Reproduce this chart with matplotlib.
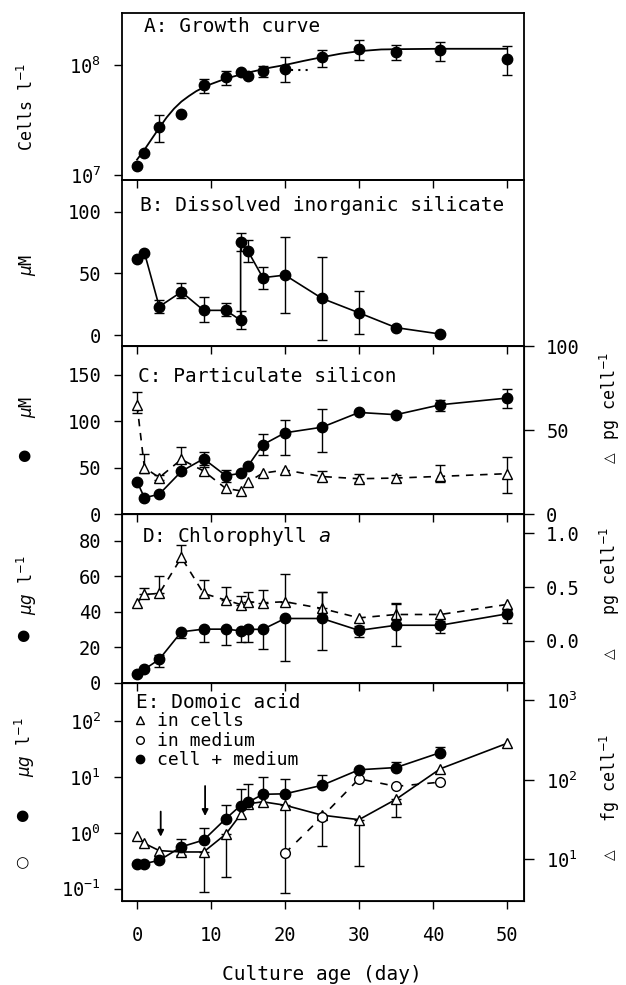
import numpy as np
import matplotlib
matplotlib.use("Agg")
import matplotlib.pyplot as plt
from matplotlib.lines import Line2D
from matplotlib.ticker import FixedLocator, NullLocator

nan = np.nan

# A: growth curve (cells per litre)
days_a = [0, 1, 3, 6, 9, 12, 14, 15, 17, 20, 25, 30, 35, 41, 50]
cells = [1.22e7, 1.58e7, 2.77e7, 3.60e7, 6.65e7, 7.77e7, 8.70e7, 7.98e7, 8.87e7,
         9.30e7, 1.19e8, 1.42e8, 1.32e8, 1.37e8, 1.15e8]
cells_lo = [nan, nan, 2.02e7, nan, 5.66e7, 6.65e7, nan, nan, 7.82e7, 7.0e7,
            9.66e7, 1.13e8, 1.11e8, 1.09e8, 8.22e7]
cells_hi = [nan, nan, 3.54e7, nan, 7.55e7, 8.93e7, nan, nan, 9.93e7, 1.19e8,
            1.39e8, 1.72e8, 1.55e8, 1.63e8, 1.49e8]
# fitted curve
fit_days = [0, 1, 2, 3, 4, 5, 6, 7, 8, 9, 10, 12, 15, 18, 20, 22.5, 25, 27.5, 30,
            33, 36, 41, 50]
fit_cells = [1.38e7, 1.70e7, 2.14e7, 2.69e7, 3.35e7, 4.03e7, 4.68e7, 5.25e7, 5.82e7,
             6.31e7, 6.76e7, 7.59e7, 8.61e7, 9.55e7, 1.01e8, 1.10e8, 1.19e8, 1.28e8,
             1.35e8, 1.40e8, 1.41e8, 1.42e8, 1.42e8]
dot_days = [20.8, 23.3]
dot_cells = [9.1e7, 9.1e7]

# B: dissolved inorganic silicate (uM)
days_b = [0, 1, 3, 6, 9, 12, 14, 14, 15, 17, 20, 25, 30, 35, 41]
dsi = [61.4, 66.8, 23.0, 35.0, 20.0, 20.0, 12.0, 75.7, 68.0, 46.5, 48.6, 29.7, 18.0, 6.0, 0.8]
dsi_lo = [nan, nan, 17.6, 29.7, 10.3, 15.4, 4.6, 68.0, 59.5, 37.0, 17.6, -4.0, 0.5, nan, nan]
dsi_hi = [nan, nan, 28.4, 41.9, 30.5, 25.7, 19.7, 83.0, 77.0, 54.9, 79.7, 63.5, 36.0, nan, nan]

# C: particulate silicon (uM and pg per cell)
days_c = [0, 1, 3, 6, 9, 12, 14, 15, 17, 20, 25, 30, 35, 41, 50]
psi = [35.0, 17.5, 21.3, 46.0, 59.5, 41.3, 43.8, 51.8, 74.6, 87.5, 93.5, 109.4, 107.0, 117.7, 124.9]
psi_lo = [nan, nan, nan, nan, 53.0, 35.0, nan, nan, 64.0, 63.6, 67.0, nan, nan, 110.5, 114.0]
psi_hi = [nan, nan, nan, nan, 66.5, 47.0, nan, nan, 85.8, 101.0, 112.6, nan, nan, 123.0, 134.5]
psi_cell = [65.0, 27.6, 21.7, 32.5, 25.6, 15.2, 13.8, 19.1, 24.3, 26.2, 22.3, 21.0, 21.4, 22.4, 24.0]
psi_cell_lo = [60.0, 24.5, 20.5, 25.6, 23.0, nan, nan, nan, nan, nan, 19.4, 19.0, 19.0, 19.0, 12.5]
psi_cell_hi = [72.9, 36.0, 23.0, 39.6, 28.0, nan, nan, nan, nan, nan, 25.3, 24.0, 23.5, 29.3, 34.0]

# D: chlorophyll a (ug per litre and pg per cell)
days_d = [0, 1, 3, 6, 9, 12, 14, 15, 17, 20, 25, 30, 35, 41, 50]
chl = [4.9, 7.7, 13.3, 28.8, 30.3, 30.3, 29.4, 30.2, 30.2, 36.3, 36.3, 29.6, 32.5, 32.5, 38.9]
chl_lo = [nan, nan, 9.2, 25.1, 22.9, 21.3, 22.9, 22.9, 19.1, 12.5, 18.5, 25.7, 20.6, 28.1, 33.8]
chl_hi = [nan, nan, 15.7, 28.8, 30.3, 30.3, 29.4, 30.2, 30.2, 36.3, 51.0, 31.9, 45.0, 34.7, 41.3]
chl_cell = [0.353, 0.431, 0.44, 0.775, 0.44, 0.378, 0.337, 0.363, 0.353, 0.363, 0.30,
            0.2125, 0.244, 0.244, 0.3375]
chl_cell_lo = [nan, 0.431, 0.44, 0.745, 0.415, 0.378, 0.337, 0.363, 0.353, 0.363, 0.30,
               nan, 0.197, nan, nan]
chl_cell_hi = [nan, 0.487, 0.60, 0.893, 0.562, 0.50, 0.415, 0.456, 0.469, 0.625, 0.456,
               nan, 0.344, nan, nan]

# E: domoic acid
days_tot = [0, 1, 3, 6, 9, 12, 14, 15, 17, 20, 25, 30, 35, 41]
da_tot = [0.27, 0.28, 0.32, 0.56, 0.74, 1.79, 3.08, 3.52, 4.9, 5.0, 7.1, 13.5, 14.8, 27.5]
da_tot_hi = [nan, nan, nan, 0.76, 1.22, 3.16, 6.2, 7.6, 10.0, 9.1, 10.7, nan, 18.6, 34.7]
days_med = [20, 25, 30, 35, 41]
da_med = [0.43, 1.93, 9.3, 6.8, 8.1]
days_cell = [0, 1, 3, 6, 9, 12, 14, 15, 17, 20, 25, 30, 35, 41, 50]
da_cell = [19.6, 15.9, 12.9, 12.4, 12.4, 20.8, 36.7, 50.0, 53.0, 48.0, 36.0, 31.6, 57.0, 138.0, 288.0]
da_cell_lo = [nan, nan, nan, 11.5, 3.93, 5.94, nan, nan, nan, 3.74, 14.7, 8.3, 33.8, nan, nan]
da_cell_hi = [nan, nan, nan, 13.5, 12.4, 20.8, nan, nan, nan, 48.0, 36.0, 31.6, 57.0, nan, nan]
arrow_days = [3.2, 9.2]
arrow_from = [2.4, 6.9]
arrow_to = [0.85, 2.0]

plt.rcParams['font.family'] = ['DejaVu Sans Mono']
plt.rcParams['mathtext.fontset'] = 'dejavusans'

W, H = 626, 985
FS = 13.5
TFS = 14
LFS = 12
RFS = 12
fig = plt.figure(figsize=(W / 100, H / 100), dpi=100)


def add_panel(top, bottom):
    ax = fig.add_axes([122 / W, 1 - bottom / H, 402 / W, (bottom - top) / H])
    ax.set_facecolor('none')
    ax.set_xlim(-2.03, 52.3)
    ax.xaxis.set_major_locator(FixedLocator([0, 10, 20, 30, 40, 50]))
    ax.tick_params(axis='both', direction='out', length=6, width=1, labelsize=FS, pad=9)
    ax.tick_params(axis='x', labelbottom=False)
    for s in ax.spines.values():
        s.set_linewidth(1.3)
    return ax


def twin(ax):
    ax2 = ax.twinx()
    ax2.set_facecolor('none')
    ax2.tick_params(axis='y', direction='out', length=7, width=1, labelsize=FS, pad=9)
    return ax2


def errs(ax, x, y, lo, hi):
    x, y, lo, hi = (np.asarray(v, dtype=float) for v in (x, y, lo, hi))
    m = ~np.isnan(lo)
    ax.errorbar(x[m], y[m], yerr=[y[m] - lo[m], hi[m] - y[m]], fmt='none',
                ecolor='black', elinewidth=1, capsize=3.5, capthick=1, zorder=2)


def filled(ax, x, y, ls='-'):
    ax.plot(x, y, ls=ls, color='black', lw=1.2, marker='o', ms=7.5,
            mfc='black', mec='black', zorder=3)


def opened(ax, x, y, marker='^', ls='-'):
    ax.plot(x, y, ls=ls, color='black', lw=1.2, marker=marker, ms=7,
            mfc='white', mec='black', mew=1, zorder=3)


def ftext(x, y, s, **kw):
    kw.setdefault('fontsize', TFS)
    kw.setdefault('va', 'center')
    fig.text(x / W, 1 - y / H, s, **kw)


DASH = (0, (4.5, 4))

# A
axA = add_panel(13, 180)
axA.set_yscale('log')
axA.set_ylim(10 ** 6.954, 10 ** 8.479)
axA.yaxis.set_major_locator(FixedLocator([1e7, 1e8]))
axA.yaxis.set_minor_locator(NullLocator())
axA.plot(fit_days, fit_cells, color='black', lw=1.3, zorder=2)
axA.plot(dot_days, dot_cells, color='black', lw=1.5, ls=(0, (1, 2.5)))
errs(axA, days_a, cells, cells_lo, cells_hi)
axA.plot(days_a, cells, ls='none', marker='o', ms=7.5, color='black', zorder=3)
ftext(144, 27, 'A: Growth curve')
ftext(27, 107, 'Cells l$^{-1}$', rotation=90, ha='center', fontsize=LFS)

# B
axB = add_panel(180, 346)
axB.set_ylim(-8.9, 125.7)
axB.yaxis.set_major_locator(FixedLocator([0, 50, 100]))
errs(axB, days_b, dsi, dsi_lo, dsi_hi)
filled(axB, days_b, dsi)
ftext(140, 205, 'B: Dissolved inorganic silicate')
ftext(27, 265, r'$\mu$M', rotation=90, ha='center', fontsize=LFS)

# C
axC = add_panel(346, 514)
axC.set_ylim(0, 181)
axC.yaxis.set_major_locator(FixedLocator([0, 50, 100, 150]))
axC2 = twin(axC)
axC2.set_ylim(0, 100)
axC2.yaxis.set_major_locator(FixedLocator([0, 50, 100]))
errs(axC2, days_c, psi_cell, psi_cell_lo, psi_cell_hi)
opened(axC2, days_c, psi_cell, ls=DASH)
errs(axC, days_c, psi, psi_lo, psi_hi)
filled(axC, days_c, psi)
axC.set_zorder(axC2.get_zorder() + 1)
ftext(138, 376, 'C: Particulate silicon')
ftext(27, 407, r'$\mu$M', rotation=90, ha='center', fontsize=LFS)
ftext(24, 456, '●', ha='center', fontsize=11, family=['DejaVu Sans'])
ftext(610, 396, 'pg cell$^{-1}$', rotation=90, ha='center', fontsize=RFS)
ftext(610, 458, '△', rotation=90, ha='center', fontsize=10, family=['DejaVu Sans'])

# D
axD = add_panel(514, 683)
axD.set_ylim(0, 95.1)
axD.yaxis.set_major_locator(FixedLocator([0, 20, 40, 60, 80]))
axD2 = twin(axD)
axD2.set_ylim(-0.394, 1.18)
axD2.yaxis.set_major_locator(FixedLocator([0.0, 0.5, 1.0]))
axD2.set_yticklabels(['0.0', '0.5', '1.0'])
errs(axD2, days_d, chl_cell, chl_cell_lo, chl_cell_hi)
opened(axD2, days_d, chl_cell, ls=DASH)
errs(axD, days_d, chl, chl_lo, chl_hi)
filled(axD, days_d, chl)
axD.set_zorder(axD2.get_zorder() + 1)
ftext(142, 537, r'D: Chlorophyll $\mathit{a}$')
ftext(27, 585, r'$\mu g$ l$^{-1}$', rotation=90, ha='center', fontsize=LFS)
ftext(23, 635, '●', ha='center', fontsize=11, family=['DejaVu Sans'])
ftext(610, 571, 'pg cell$^{-1}$', rotation=90, ha='center', fontsize=RFS)
ftext(610, 654, '△', rotation=90, ha='center', fontsize=10, family=['DejaVu Sans'])

# E
axE = add_panel(683, 901)
axE.set_yscale('log')
axE.set_ylim(10 ** -1.224, 10 ** 2.687)
axE.yaxis.set_major_locator(FixedLocator([0.1, 1, 10, 100]))
axE.yaxis.set_minor_locator(NullLocator())
axE.tick_params(axis='x', labelbottom=True, pad=12)
axE2 = twin(axE)
axE2.set_yscale('log')
axE2.set_ylim(10 ** 0.477, 10 ** 3.218)
axE2.yaxis.set_major_locator(FixedLocator([10, 100, 1000]))
axE2.yaxis.set_minor_locator(NullLocator())
errs(axE2, days_cell, da_cell, da_cell_lo, da_cell_hi)
opened(axE2, days_cell, da_cell)
tot_lo = np.where(np.isnan(da_tot_hi), nan, da_tot)
errs(axE, days_tot, da_tot, tot_lo, da_tot_hi)
opened(axE, days_med, da_med, marker='o', ls=(0, (4.5, 5)))
filled(axE, days_tot, da_tot)
for d, y0, y1 in zip(arrow_days, arrow_from, arrow_to):
    axE.annotate('', xy=(d, y1), xytext=(d, y0),
                 arrowprops=dict(arrowstyle='-|>', color='black', lw=1.3,
                                 mutation_scale=9, shrinkA=0, shrinkB=0))
axE.set_zorder(axE2.get_zorder() + 1)
handles = [
    Line2D([], [], ls='none', marker='^', ms=5.5, mfc='white', mec='black'),
    Line2D([], [], ls='none', marker='o', ms=5.5, mfc='white', mec='black'),
    Line2D([], [], ls='none', marker='o', ms=6, mfc='black', mec='black'),
]
axE.legend(handles, ['in cells', 'in medium', 'cell + medium'], loc='upper left',
           bbox_to_anchor=(0.028, 0.865), frameon=False, fontsize=13,
           handlelength=0.7, handletextpad=0.6, labelspacing=0.08,
           borderpad=0, borderaxespad=0)
ftext(136, 703, 'E: Domoic acid')
ftext(25, 747, r'$\mu g$ l$^{-1}$', rotation=90, ha='center', fontsize=LFS)
ftext(22, 815, '●', ha='center', fontsize=11, family=['DejaVu Sans'])
ftext(22, 863, '○', ha='center', fontsize=11, family=['DejaVu Sans'])
ftext(610, 778, 'fg cell$^{-1}$', rotation=90, ha='center', fontsize=RFS)
ftext(610, 855, '△', rotation=90, ha='center', fontsize=10, family=['DejaVu Sans'])

ftext(322, 975, 'Culture age (day)', ha='center', fontsize=14)

fig.savefig('out.png', dpi=100)
